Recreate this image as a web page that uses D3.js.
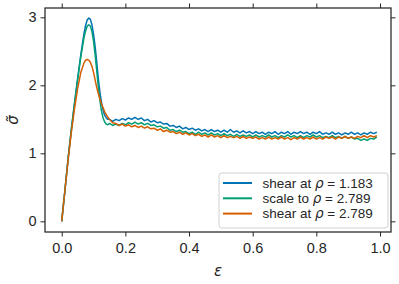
<!DOCTYPE html>
<html>
<head>
<meta charset="utf-8">
<script src="https://cdn.jsdelivr.net/npm/d3@7"></script>
<style>
  body { margin: 0; background: #fff; }
  text { font-family: "Liberation Sans", Arial, sans-serif; }
  .math { font-family: "DejaVu Sans", sans-serif; font-style: italic; }
</style>
</head>
<body>
<svg id="chart"></svg>
<script>
// strain values: rise/peak part then plateau
const strainRise = [0, 0.01, 0.02, 0.03, 0.04, 0.05, 0.06, 0.07, 0.075, 0.08, 0.085, 0.09,
  0.095, 0.1, 0.105, 0.11, 0.115, 0.12, 0.125, 0.13, 0.135, 0.14, 0.145];
const strainPlateau = d3.range(15, 100).map(i => i / 100);

const shear1183Rise = [0, 0.45, 0.92, 1.34, 1.73, 2.1, 2.45, 2.76, 2.88, 2.96, 2.99, 2.97,
  2.89, 2.75, 2.57, 2.34, 2.1, 1.9, 1.75, 1.63, 1.56, 1.52, 1.5];
const scale2789Rise = [0, 0.45, 0.92, 1.34, 1.72, 2.08, 2.42, 2.7, 2.8, 2.87, 2.89, 2.87,
  2.79, 2.65, 2.45, 2.22, 1.98, 1.78, 1.62, 1.52, 1.46, 1.43, 1.42];
const shear2789Rise = [0, 0.45, 0.9, 1.3, 1.65, 1.95, 2.19, 2.33, 2.37, 2.38, 2.37, 2.34,
  2.28, 2.19, 2.08, 1.97, 1.88, 1.8, 1.73, 1.67, 1.61, 1.57, 1.53];

const shear1183Plateau = [1.50, 1.47, 1.50, 1.48, 1.51, 1.49, 1.52, 1.50, 1.53, 1.50,
  1.52, 1.48, 1.50, 1.46, 1.48, 1.45, 1.46, 1.43, 1.44, 1.40,
  1.41, 1.38, 1.40, 1.36, 1.38, 1.35, 1.37, 1.34, 1.36, 1.33,
  1.35, 1.32, 1.35, 1.32, 1.34, 1.31, 1.34, 1.31, 1.35, 1.31,
  1.33, 1.30, 1.33, 1.30, 1.32, 1.29, 1.32, 1.29, 1.31, 1.28,
  1.31, 1.29, 1.32, 1.28, 1.31, 1.29, 1.32, 1.28, 1.31, 1.29,
  1.32, 1.29, 1.31, 1.28, 1.31, 1.29, 1.32, 1.28, 1.30, 1.28,
  1.31, 1.28, 1.30, 1.27, 1.30, 1.28, 1.31, 1.28, 1.30, 1.27,
  1.30, 1.28, 1.31, 1.29, 1.31];
const scale2789Plateau = [1.44, 1.41, 1.43, 1.41, 1.44, 1.42, 1.45, 1.43, 1.46, 1.43,
  1.45, 1.42, 1.44, 1.41, 1.42, 1.39, 1.40, 1.37, 1.38, 1.34,
  1.35, 1.32, 1.34, 1.31, 1.32, 1.29, 1.31, 1.28, 1.31, 1.28,
  1.30, 1.27, 1.30, 1.27, 1.29, 1.26, 1.29, 1.26, 1.28, 1.25,
  1.28, 1.25, 1.27, 1.25, 1.27, 1.24, 1.27, 1.24, 1.26, 1.24,
  1.27, 1.24, 1.26, 1.23, 1.26, 1.24, 1.27, 1.24, 1.26, 1.23,
  1.26, 1.23, 1.26, 1.24, 1.27, 1.24, 1.26, 1.23, 1.25, 1.23,
  1.26, 1.23, 1.25, 1.22, 1.25, 1.22, 1.24, 1.21, 1.22, 1.19,
  1.21, 1.19, 1.22, 1.21, 1.24];
const shear2789Plateau = [1.50, 1.45, 1.44, 1.41, 1.43, 1.40, 1.42, 1.39, 1.41, 1.38,
  1.40, 1.37, 1.39, 1.36, 1.37, 1.34, 1.36, 1.32, 1.34, 1.31,
  1.32, 1.29, 1.31, 1.28, 1.30, 1.27, 1.29, 1.26, 1.28, 1.25,
  1.27, 1.24, 1.27, 1.24, 1.26, 1.23, 1.26, 1.23, 1.25, 1.23,
  1.25, 1.22, 1.25, 1.22, 1.24, 1.22, 1.24, 1.21, 1.23, 1.21,
  1.24, 1.21, 1.23, 1.21, 1.24, 1.21, 1.23, 1.20, 1.23, 1.21,
  1.24, 1.21, 1.23, 1.21, 1.24, 1.21, 1.23, 1.21, 1.24, 1.22,
  1.24, 1.21, 1.24, 1.22, 1.25, 1.22, 1.24, 1.22, 1.25, 1.23,
  1.26, 1.23, 1.26, 1.24, 1.26];

const seriesNames = ["shear at", "scale to", "shear at"];
const seriesRho = ["1.183", "2.789", "2.789"];
const seriesColors = ["#0173b2", "#029e73", "#d55e00"];
const xTicks = [0, 0.2, 0.4, 0.6, 0.8, 1.0];
const yTicks = [0, 1, 2, 3];

const strain = strainRise.concat(strainPlateau);
const series = [
  shear1183Rise.concat(shear1183Plateau),
  scale2789Rise.concat(scale2789Plateau),
  shear2789Rise.concat(shear2789Plateau)
];

const W = 399, H = 284;
const margin = { top: 8, right: 8, bottom: 52, left: 45 };
const width = W - margin.left - margin.right,
  height = H - margin.top - margin.bottom;

const svg = d3.select("#chart").attr("width", W).attr("height", H);
const g = svg.append("g").attr("transform", `translate(${margin.left},${margin.top})`);

const x = d3.scaleLinear().domain([-0.0525, 1.0345]).range([0, width]);
const y = d3.scaleLinear().domain([-0.157, 3.137]).range([height, 0]);

// lines
const line = d3.line().x((d, i) => x(strain[i])).y(d => y(d));
series.forEach((s, k) => {
  g.append("path")
    .datum(s)
    .attr("fill", "none")
    .attr("stroke", seriesColors[k])
    .attr("stroke-width", 1.5)
    .attr("stroke-linejoin", "round")
    .attr("d", line);
});

// axes (ticks outward on all four sides)
const fmt = d3.format(".1f");
const axBottom = g.append("g").attr("transform", `translate(0,${height})`)
  .call(d3.axisBottom(x).tickValues(xTicks).tickFormat(fmt).tickSizeOuter(0).tickSize(4.5).tickPadding(6));
const axTop = g.append("g")
  .call(d3.axisTop(x).tickValues(xTicks).tickFormat("").tickSizeOuter(0).tickSize(4.5));
const axLeft = g.append("g")
  .call(d3.axisLeft(y).tickValues(yTicks).tickFormat(d3.format("d")).tickSizeOuter(0).tickSize(4.5).tickPadding(4));
const axRight = g.append("g").attr("transform", `translate(${width},0)`)
  .call(d3.axisRight(y).tickValues(yTicks).tickFormat("").tickSizeOuter(0).tickSize(4.5));

[axBottom, axTop, axLeft, axRight].forEach(a => {
  a.select(".domain").remove();
  a.selectAll("line").attr("stroke", "#262626").attr("stroke-width", 1);
  a.selectAll("text").attr("fill", "#262626").style("font-size", "14.5px")
    .style("font-family", "'Liberation Sans', Arial, sans-serif");
});

g.append("rect")
  .attr("width", width).attr("height", height)
  .attr("fill", "none").attr("stroke", "#262626").attr("stroke-width", 1.25);

// axis labels
svg.append("text")
  .attr("class", "math")
  .attr("x", margin.left + width / 2).attr("y", 276)
  .attr("text-anchor", "middle")
  .attr("fill", "#262626")
  .style("font-size", "15px")
  .text("ε");

svg.append("text")
  .attr("class", "math")
  .attr("transform", `translate(18,${margin.top + 112}) rotate(-90)`)
  .attr("text-anchor", "middle")
  .attr("fill", "#262626")
  .style("font-size", "15px")
  .text("σ̃");

// legend
const lg = svg.append("g").attr("transform", "translate(219,173)");
lg.append("rect")
  .attr("width", 169).attr("height", 55).attr("rx", 3)
  .attr("fill", "#fff").attr("fill-opacity", 0.85)
  .attr("stroke", "#d0d0d0").attr("stroke-width", 1);
seriesNames.forEach((name, k) => {
  const yy = 10 + k * 15.3;
  lg.append("line")
    .attr("x1", 4).attr("x2", 33).attr("y1", yy).attr("y2", yy)
    .attr("stroke", seriesColors[k]).attr("stroke-width", 2);
  const t = lg.append("text")
    .attr("x", 43.5).attr("y", yy + 4.8)
    .attr("fill", "#262626")
    .style("font-size", "13.5px");
  t.append("tspan").text(name + " ");
  t.append("tspan").attr("class", "math").text("ρ");
  t.append("tspan").text(" = " + seriesRho[k]);
});
</script>
</body>
</html>
